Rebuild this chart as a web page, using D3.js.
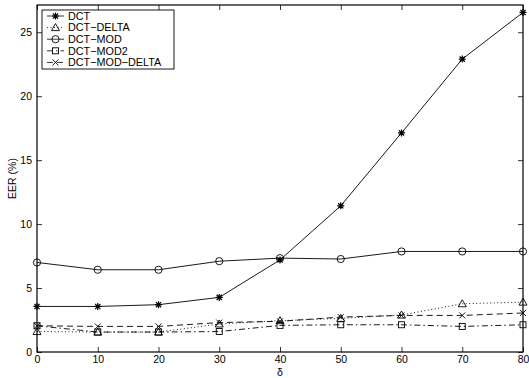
<!DOCTYPE html>
<meta charset="utf-8">
<script src="https://d3js.org/d3.v7.min.js"></script>
<style>
body{margin:0;background:#fff;}
text{font-family:"Liberation Sans",Arial,sans-serif;}
</style>
<div id="vis"></div>
<script>

// data
var deltas = [0, 10, 20, 30, 40, 50, 60, 70, 80];
var dct         = [3.56, 3.56, 3.7, 4.27, 7.2, 11.43, 17.13, 22.9, 26.55];
var dctDelta    = [1.6, 1.56, 1.56, 2.19, 2.45, 2.63, 2.89, 3.77, 3.9];
var dctMod      = [7.0, 6.43, 6.43, 7.1, 7.34, 7.27, 7.86, 7.86, 7.86];
var dctMod2     = [2.05, 1.56, 1.56, 1.6, 2.08, 2.13, 2.13, 2.0, 2.13];
var dctModDelta = [2.05, 2.0, 2.0, 2.3, 2.4, 2.73, 2.86, 2.86, 3.05];
var seriesNames = ["DCT", "DCT\u2212DELTA", "DCT\u2212MOD", "DCT\u2212MOD2", "DCT\u2212MOD\u2212DELTA"];
var xTicks = [0, 10, 20, 30, 40, 50, 60, 70, 80];
var yTicks = [0, 5, 10, 15, 20, 25];

var series = [
  {name: seriesNames[0], values: dct,         marker: "star",     dash: null},
  {name: seriesNames[1], values: dctDelta,    marker: "triangle", dash: "1,2.5"},
  {name: seriesNames[2], values: dctMod,      marker: "circle",   dash: null},
  {name: seriesNames[3], values: dctMod2,     marker: "square",   dash: "6,3,1.5,3"},
  {name: seriesNames[4], values: dctModDelta, marker: "cross",    dash: "6,4"}
];

var w = 529, h = 378;
var margin = {top: 5, right: 6, bottom: 26, left: 37};
var width = w - margin.left - margin.right,
    height = h - margin.top - margin.bottom;

var svg = d3.select("#vis").append("svg")
    .attr("width", w)
    .attr("height", h);

var g = svg.append("g")
    .attr("transform", "translate(" + margin.left + "," + margin.top + ")");

var x = d3.scaleLinear().domain([0, 80]).range([0, width]);
var y = d3.scaleLinear().domain([0, 27.13]).range([height, 0]);

// axes with inward ticks on all four sides
g.append("g")
    .attr("transform", "translate(0," + height + ")")
    .call(d3.axisBottom(x).tickValues(xTicks).tickSizeInner(-5).tickSizeOuter(0).tickPadding(4));
g.append("g")
    .call(d3.axisTop(x).tickValues(xTicks).tickSizeInner(-5).tickSizeOuter(0).tickFormat(""));
g.append("g")
    .call(d3.axisLeft(y).tickValues(yTicks).tickSizeInner(-5).tickSizeOuter(0).tickPadding(5));
g.append("g")
    .attr("transform", "translate(" + width + ",0)")
    .call(d3.axisRight(y).tickValues(yTicks).tickSizeInner(-5).tickSizeOuter(0).tickFormat(""));

g.selectAll(".domain").remove();
g.selectAll(".tick line").attr("stroke", "#000").attr("stroke-width", 0.8);
g.selectAll(".tick text").attr("font-size", 10.5).attr("fill", "#000");

g.append("rect")
    .attr("width", width).attr("height", height)
    .attr("fill", "none").attr("stroke", "#000").attr("stroke-width", 1.2);

// axis labels
svg.append("text")
    .attr("x", margin.left + x(40)).attr("y", h - 2)
    .attr("text-anchor", "middle").attr("font-size", 10.5)
    .text("\u03b4");
svg.append("text")
    .attr("transform", "translate(16," + (margin.top + height / 2) + ") rotate(-90)")
    .attr("text-anchor", "middle").attr("font-size", 10.5)
    .text("EER (%)");

function drawMarker(sel, type) {
  if (type == "circle") {
    sel.append("circle").attr("r", 3.6).attr("fill", "none").attr("stroke", "#000").attr("stroke-width", 0.9);
  } else if (type == "square") {
    sel.append("rect").attr("x", -3).attr("y", -3).attr("width", 6).attr("height", 6)
      .attr("fill", "none").attr("stroke", "#000").attr("stroke-width", 0.9);
  } else if (type == "triangle") {
    sel.append("path").attr("d", "M0,-4L4,3L-4,3Z")
      .attr("fill", "none").attr("stroke", "#000").attr("stroke-width", 0.9);
  } else if (type == "cross") {
    sel.append("path").attr("d", "M-3,-3L3,3M-3,3L3,-3")
      .attr("stroke", "#000").attr("stroke-width", 0.9);
  } else if (type == "star") {
    sel.append("path").attr("d", "M-3.5,0L3.5,0M0,-3.5L0,3.5M-2.6,-2.6L2.6,2.6M-2.6,2.6L2.6,-2.6")
      .attr("stroke", "#000").attr("stroke-width", 1.2);
  }
}

var line = d3.line()
    .x(function(d, i) { return x(deltas[i]); })
    .y(function(d) { return y(d); });

series.forEach(function(s) {
  g.append("path")
      .attr("d", line(s.values))
      .attr("fill", "none")
      .attr("stroke", "#000")
      .attr("stroke-width", 0.9)
      .attr("stroke-dasharray", s.dash);
  g.selectAll(null)
      .data(s.values)
    .enter().append("g")
      .attr("transform", function(d, i) { return "translate(" + x(deltas[i]) + "," + y(d) + ")"; })
      .each(function() { drawMarker(d3.select(this), s.marker); });
});

// legend
var lg = svg.append("g").attr("transform", "translate(42,10)");
lg.append("rect")
    .attr("width", 132).attr("height", 59)
    .attr("fill", "#fff").attr("stroke", "#000").attr("stroke-width", 0.9);
series.forEach(function(s, i) {
  var row = lg.append("g").attr("transform", "translate(0," + (6 + i * 11.6) + ")");
  row.append("line")
      .attr("x1", 5).attr("x2", 22)
      .attr("stroke", "#000").attr("stroke-width", 0.8)
      .attr("stroke-dasharray", s.dash);
  drawMarker(row.append("g").attr("transform", "translate(13.5,0)"), s.marker);
  row.append("text")
      .attr("x", 26).attr("dy", "0.35em")
      .attr("font-size", 10.8)
      .text(s.name);
});

</script>
